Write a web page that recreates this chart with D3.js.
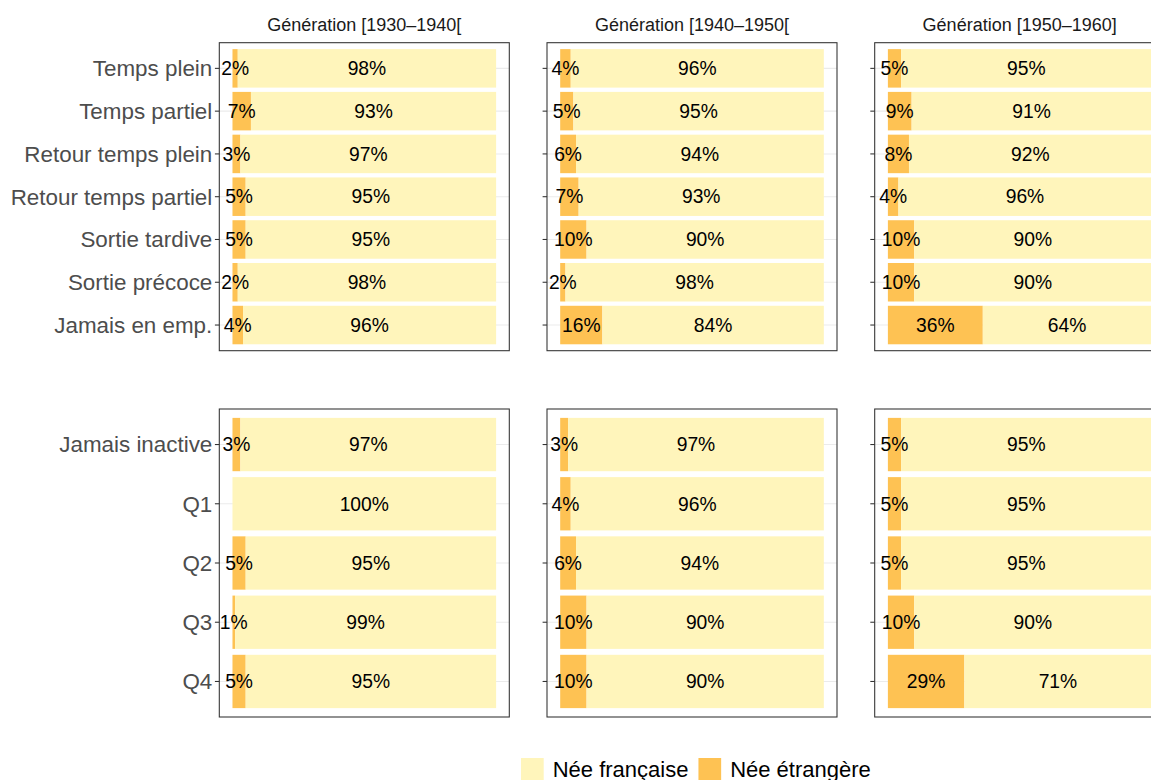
<!DOCTYPE html>
<html>
<head>
<meta charset="utf-8">
<script src="https://cdn.jsdelivr.net/npm/d3@7"></script>
<style>
  html, body { margin: 0; padding: 0; background: #fff; }
  svg { display: block; font-family: "Liberation Sans", Arial, Helvetica, sans-serif; }
</style>
</head>
<body>
<svg id="chart" width="1151" height="780"></svg>
<script>
// ---- Data ----
const generations = ["Génération [1930–1940[", "Génération [1940–1950[", "Génération [1950–1960]"];
const topCategories = ["Temps plein", "Temps partiel", "Retour temps plein", "Retour temps partiel", "Sortie tardive", "Sortie précoce", "Jamais en emp."];
const bottomCategories = ["Jamais inactive", "Q1", "Q2", "Q3", "Q4"];
const seriesNames = ["Née française", "Née étrangère"];
const seriesColors = ["#FFF5BB", "#FEC253"];
// share "Née étrangère" (%), per generation
const topForeign = [
  [2, 7, 3, 5, 5, 2, 4],
  [4, 5, 6, 7, 10, 2, 16],
  [5, 9, 8, 4, 10, 10, 36]
];
const topFrench = [
  [98, 93, 97, 95, 95, 98, 96],
  [96, 95, 94, 93, 90, 98, 84],
  [95, 91, 92, 96, 90, 90, 64]
];
const bottomForeign = [
  [3, 0, 5, 1, 5],
  [3, 4, 6, 10, 10],
  [5, 5, 5, 10, 29]
];
const bottomFrench = [
  [97, 100, 95, 99, 95],
  [97, 96, 94, 90, 90],
  [95, 95, 95, 90, 71]
];

// ---- Layout ----
const svg = d3.select("#chart");
const panelW = 290, panelH = 308;
const panelX0 = 219.3, panelStep = 327.7;
const rows = [
  { y0: 42.7, cats: topCategories, foreign: topForeign, french: topFrench },
  { y0: 409.0, cats: bottomCategories, foreign: bottomForeign, french: bottomFrench }
];

const gridG = svg.append("g");
const barsG = svg.append("g");
const labG = svg.append("g");
const frameG = svg.append("g");

rows.forEach((row, ri) => {
  generations.forEach((gen, gi) => {
    const px = panelX0 + gi * panelStep;
    const py = row.y0;
    const x = d3.scaleLinear().domain([0, 100]).range([px + panelW * 0.05 / 1.1, px + panelW - panelW * 0.05 / 1.1]);
    const y = d3.scalePoint().domain(row.cats).range([py, py + panelH]).padding(0.6);
    const bh = y.step() * 0.9;

    // gridlines
    gridG.selectAll(null).data(row.cats).enter().append("line")
      .attr("x1", px).attr("x2", px + panelW)
      .attr("y1", d => y(d)).attr("y2", d => y(d))
      .attr("stroke", "#EBEBEB").attr("stroke-width", 1.07);

    const data = row.cats.map((c, i) => ({ cat: c, foreign: row.foreign[gi][i], french: row.french[gi][i] }));

    // foreign segment (left)
    barsG.selectAll(null).data(data).enter().append("rect")
      .attr("x", x(0)).attr("width", d => x(d.foreign) - x(0))
      .attr("y", d => y(d.cat) - bh / 2).attr("height", bh)
      .attr("fill", seriesColors[1]);
    // french segment
    barsG.selectAll(null).data(data).enter().append("rect")
      .attr("x", d => x(d.foreign)).attr("width", d => x(d.foreign + d.french) - x(d.foreign))
      .attr("y", d => y(d.cat) - bh / 2).attr("height", bh)
      .attr("fill", seriesColors[0]);

    // labels
    data.forEach(d => {
      if (d.foreign > 0) {
        labG.append("text")
          .attr("x", x(d.foreign / 2)).attr("y", y(d.cat))
          .attr("dy", "0.35em").attr("text-anchor", "middle")
          .attr("font-size", 19.3).attr("fill", "#000")
          .text(d.foreign + "%");
      }
      if (d.french > 0) {
        labG.append("text")
          .attr("x", x(d.foreign + d.french / 2)).attr("y", y(d.cat))
          .attr("dy", "0.35em").attr("text-anchor", "middle")
          .attr("font-size", 19.3).attr("fill", "#000")
          .text(d.french + "%");
      }
    });

    // ticks
    frameG.selectAll(null).data(row.cats).enter().append("line")
      .attr("x1", px - 4.4).attr("x2", px)
      .attr("y1", d => y(d)).attr("y2", d => y(d))
      .attr("stroke", "#333333").attr("stroke-width", 1.07);

    // axis labels only on first column
    if (gi === 0) {
      frameG.selectAll(null).data(row.cats).enter().append("text")
        .attr("x", px - 7).attr("y", d => y(d))
        .attr("dy", "0.35em").attr("text-anchor", "end")
        .attr("font-size", 22.4).attr("fill", "#4D4D4D")
        .text(d => d);
    }

    // panel border
    frameG.append("rect")
      .attr("x", px).attr("y", py).attr("width", panelW).attr("height", panelH)
      .attr("fill", "none").attr("stroke", "#333333").attr("stroke-width", 1.07);

    // strip title (top row only)
    if (ri === 0) {
      frameG.append("text")
        .attr("x", px + panelW / 2).attr("y", 31)
        .attr("text-anchor", "middle").attr("font-size", 18).attr("fill", "#1A1A1A")
        .text(gen);
    }
  });
});

// ---- Legend ----
const legG = svg.append("g");
let lx = 521;
const keySize = 22.7, keyY = 758;
seriesNames.forEach((name, i) => {
  legG.append("rect").attr("x", lx).attr("y", keyY).attr("width", keySize).attr("height", keySize)
    .attr("fill", seriesColors[i]);
  const t = legG.append("text").attr("x", lx + keySize + 9).attr("y", 776.5)
    .attr("font-size", 22).attr("fill", "#000").text(name);
  lx = lx + keySize + 9 + t.node().getComputedTextLength() + 10;
});
</script>
</body>
</html>
